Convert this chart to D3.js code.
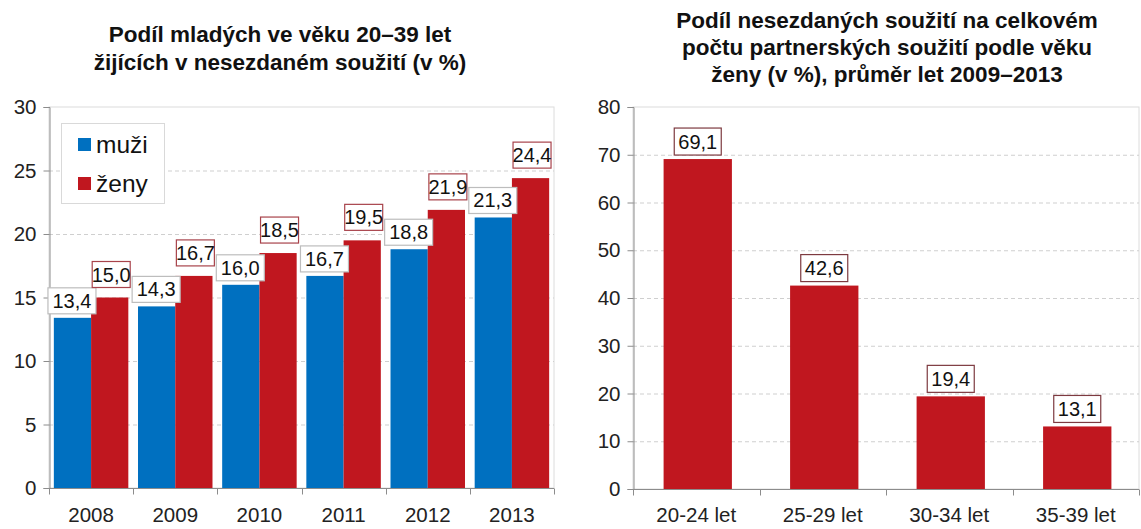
<!DOCTYPE html>
<html>
<head>
<meta charset="utf-8">
<script src="https://cdn.jsdelivr.net/npm/d3@7"></script>
<style>
  body { margin: 0; background: #fff; }
  svg { display: block; font-family: 'Liberation Sans', Arial, sans-serif; }
</style>
</head>
<body>
<div id="chart"></div>
<script>
// left chart data
const years = ['2008', '2009', '2010', '2011', '2012', '2013'];
const seriesNames = ['muži', 'ženy'];
const muzi = [13.4, 14.3, 16.0, 16.7, 18.8, 21.3];
const zeny = [15.0, 16.7, 18.5, 19.5, 21.9, 24.4];
const leftTicks = [0, 5, 10, 15, 20, 25, 30];
const leftTitle = ['Podíl mladých ve věku 20–39 let', 'žijících v nesezdaném soužití (v %)'];

// right chart data
const ageGroups = ['20-24 let', '25-29 let', '30-34 let', '35-39 let'];
const ageShare = [69.1, 42.6, 19.4, 13.1];
const rightTicks = [0, 10, 20, 30, 40, 50, 60, 70, 80];
const rightTitle = ['Podíl nesezdaných soužití na celkovém', 'počtu partnerských soužití podle věku', 'ženy (v %), průměr let 2009–2013'];

const blue = '#0070c0';
const red = '#c0171f';
const fmt = v => d3.format('.1f')(v).replace('.', ',');

const svg = d3.select('#chart').append('svg')
  .attr('width', 1141)
  .attr('height', 529);

function drawFrame(g, x0, x1, y, ticks) {
  // plot border (top, right)
  g.append('rect')
    .attr('x', x0).attr('y', y.range()[1])
    .attr('width', x1 - x0).attr('height', y.range()[0] - y.range()[1])
    .attr('fill', 'none').attr('stroke', '#dcdcdc');
  // grid lines
  g.selectAll('line.grid').data(ticks.slice(1, -1)).enter().append('line')
    .attr('class', 'grid')
    .attr('x1', x0).attr('x2', x1)
    .attr('y1', d => y(d) + 0.5).attr('y2', d => y(d) + 0.5)
    .attr('stroke', '#cfcfcf')
    .attr('stroke-dasharray', '4,3');
  // y axis
  const yAxis = g.append('g')
    .attr('transform', 'translate(' + (x0 + 0.5) + ',0)')
    .call(d3.axisLeft(y).tickValues(ticks).tickSize(6).tickPadding(7).tickFormat(d => d));
  yAxis.select('.domain').attr('stroke', '#8c8c8c');
  yAxis.selectAll('.tick line').attr('stroke', '#8c8c8c');
  yAxis.selectAll('.tick text').attr('font-size', '20.5px').attr('fill', '#222')
    .attr('font-family', "'Liberation Sans', Arial, sans-serif");
}

function drawXAxis(g, x, y, cats) {
  const base = y(0) + 0.5;
  g.append('line')
    .attr('x1', x.range()[0]).attr('x2', x.range()[1])
    .attr('y1', base).attr('y2', base)
    .attr('stroke', '#8c8c8c');
  const edges = cats.map(c => x(c)).concat([x.range()[1]]);
  g.selectAll('line.xtick').data(edges).enter().append('line')
    .attr('class', 'xtick')
    .attr('x1', d => Math.round(d) + 0.5).attr('x2', d => Math.round(d) + 0.5)
    .attr('y1', base).attr('y2', base + 6)
    .attr('stroke', '#8c8c8c');
  g.selectAll('text.xlab').data(cats).enter().append('text')
    .attr('class', 'xlab')
    .attr('x', d => x(d) + x.bandwidth() / 2)
    .attr('y', 522)
    .attr('text-anchor', 'middle')
    .attr('font-size', '20.5px')
    .attr('fill', '#222')
    .text(d => d);
}

function label(g, cx, yTop, text, stroke, w, h, gap) {
  const bottom = yTop - gap;
  g.append('rect')
    .attr('x', cx - w / 2).attr('y', bottom - h)
    .attr('width', w).attr('height', h)
    .attr('fill', '#fff').attr('stroke', stroke).attr('stroke-width', 1.2);
  g.append('text')
    .attr('x', cx).attr('y', bottom - h / 2 + 7)
    .attr('text-anchor', 'middle')
    .attr('font-size', '20px')
    .attr('fill', '#111')
    .text(text);
}

function title(lines, cx, y0, step) {
  svg.append('text')
    .attr('text-anchor', 'middle')
    .attr('font-size', '22.5px')
    .attr('font-weight', 'bold')
    .attr('fill', '#111')
    .selectAll('tspan').data(lines).enter().append('tspan')
    .attr('x', cx)
    .attr('y', (d, i) => y0 + i * step)
    .text(d => d);
}

// ---------- left chart ----------
const gL = svg.append('g');
const xL = d3.scaleBand().domain(years).range([49, 554]).padding(0);
const yL = d3.scaleLinear().domain([0, 30]).range([488, 107]);
drawFrame(gL, 49, 554, yL, leftTicks);

const sub = d3.scaleBand().domain(seriesNames).range([0, xL.bandwidth()]).paddingOuter(0.13).paddingInner(0);
const leftData = [muzi, zeny];
const colors = [blue, red];
seriesNames.forEach((s, si) => {
  gL.selectAll('rect.bar' + si).data(years).enter().append('rect')
    .attr('class', 'bar' + si)
    .attr('x', d => xL(d) + sub(s))
    .attr('y', (d, i) => yL(leftData[si][i]))
    .attr('width', sub.bandwidth())
    .attr('height', (d, i) => yL(0) - yL(leftData[si][i]))
    .attr('fill', colors[si]);
});
drawXAxis(gL, xL, yL, years);

years.forEach((yr, i) => {
  label(gL, xL(yr) + sub('muži') + sub.bandwidth() / 2 - 0.5, yL(muzi[i]), fmt(muzi[i]), '#bdbdbd', 48, 26, 4);
});
years.forEach((yr, i) => {
  label(gL, xL(yr) + sub('ženy') + sub.bandwidth() / 2 + 1.5, yL(zeny[i]), fmt(zeny[i]), '#a8434b', 38, 26, 10);
});

// legend
const leg = gL.append('g');
leg.append('rect')
  .attr('x', 61.5).attr('y', 123.5).attr('width', 103).attr('height', 80)
  .attr('fill', '#fff').attr('stroke', '#d9d9d9');
seriesNames.forEach((s, i) => {
  leg.append('rect')
    .attr('x', 78).attr('y', 138 + i * 39).attr('width', 13).attr('height', 13)
    .attr('fill', colors[i]);
  leg.append('text')
    .attr('x', 96).attr('y', 153 + i * 39)
    .attr('font-size', '24.5px')
    .attr('fill', '#111')
    .text(s);
});

title(leftTitle, 280, 42, 28);

// ---------- right chart ----------
const gR = svg.append('g');
const xR = d3.scaleBand().domain(ageGroups).range([633, 1139]).paddingInner(0.46).paddingOuter(0.23);
const yR = d3.scaleLinear().domain([0, 80]).range([489, 107]);
drawFrame(gR, 633, 1139, yR, rightTicks);

gR.selectAll('rect.bar').data(ageGroups).enter().append('rect')
  .attr('class', 'bar')
  .attr('x', d => xR(d) + 1.5)
  .attr('y', (d, i) => yR(ageShare[i]))
  .attr('width', xR.bandwidth())
  .attr('height', (d, i) => yR(0) - yR(ageShare[i]))
  .attr('fill', red);

// category edges for ticks and labels
const xRedges = d3.scaleBand().domain(ageGroups).range([633, 1139]).padding(0);
drawXAxis(gR, xRedges, yR, ageGroups);

ageGroups.forEach((a, i) => {
  label(gR, xR(a) + xR.bandwidth() / 2 + 1.5, yR(ageShare[i]), fmt(ageShare[i]), '#7d3a40', 47, 27, 4);
});

title(rightTitle, 887, 28, 27);
</script>
</body>
</html>
